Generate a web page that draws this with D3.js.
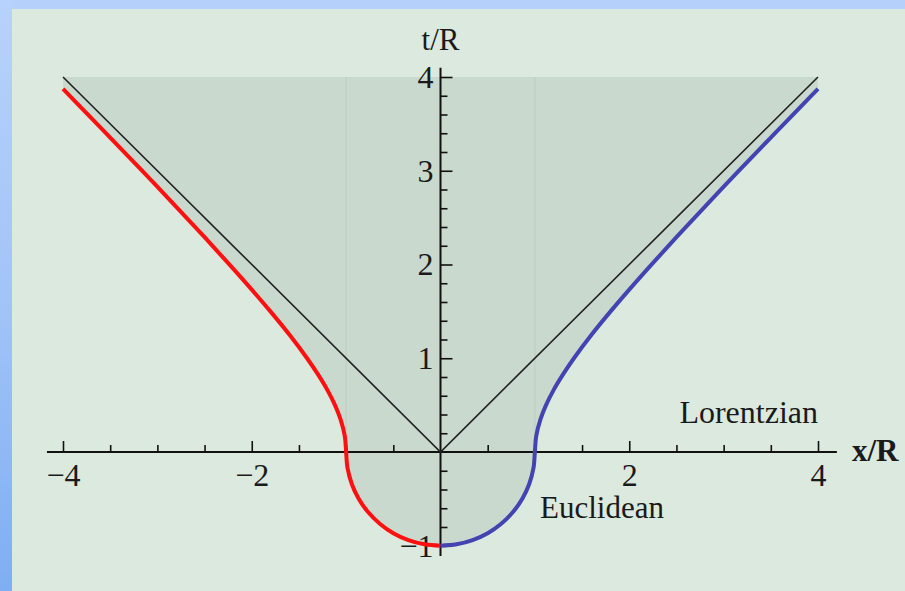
<!DOCTYPE html>
<html>
<head>
<meta charset="utf-8">
<script src="https://cdn.jsdelivr.net/npm/d3@7"></script>
<style>
  html, body { margin: 0; padding: 0; background: #b5d1fb; }
  svg { display: block; }
  text { font-family: "Liberation Serif", "Times New Roman", serif; fill: #1a1a1a; }
</style>
</head>
<body>
<svg id="chart" width="905" height="591"></svg>
<script>
// Right branch (blue): Euclidean arc from (0,-1) to (1,0), then Lorentzian hyperbola.
const blueBranch = [
  [0, -1], [0.17, -0.985], [0.34, -0.94], [0.5, -0.866], [0.64, -0.768],
  [0.77, -0.638], [0.87, -0.493], [0.94, -0.341], [0.985, -0.173], [1, 0],
  [1.014, 0.17], [1.06, 0.35], [1.118, 0.5], [1.198, 0.66], [1.3, 0.83],
  [1.414, 1], [1.6, 1.25], [1.8, 1.497], [2, 1.732], [2.24, 2.004],
  [2.5, 2.291], [2.8, 2.615], [3.16, 2.998], [3.5, 3.354], [3.8, 3.666], [4, 3.873]
];
// Left branch (red), same shapes on the negative side.
const redBranch = [
  [0, -1], [-0.17, -0.985], [-0.34, -0.94], [-0.5, -0.866], [-0.64, -0.768],
  [-0.77, -0.638], [-0.87, -0.493], [-0.94, -0.341], [-0.985, -0.173], [-1, 0],
  [-1.014, 0.17], [-1.06, 0.35], [-1.118, 0.5], [-1.198, 0.66], [-1.3, 0.83],
  [-1.414, 1], [-1.6, 1.25], [-1.8, 1.497], [-2, 1.732], [-2.24, 2.004],
  [-2.5, 2.291], [-2.8, 2.615], [-3.16, 2.998], [-3.5, 3.354], [-3.8, 3.666], [-4, 3.873]
];
// Light cone t = |x|
const lightCone = [[-4, 4], [0, 0], [4, 4]];
const topEdge = 4;
const seams = [-1, 1];

const xMajorTicks = [-4, -2, 2, 4];
const xMinorTicks = [-3.5, -3, -2.5, -1.5, -1, -0.5, 0.5, 1, 1.5, 2.5, 3, 3.5];
const yMajorTicks = [-1, 1, 2, 3, 4];
const yMinorTicks = [-0.8, -0.6, -0.4, -0.2, 0.2, 0.4, 0.6, 0.8,
  1.2, 1.4, 1.6, 1.8, 2.2, 2.4, 2.6, 2.8, 3.2, 3.4, 3.6, 3.8];
const xAxisExtent = [-4.17, 4.2];
const yAxisExtent = [-1.11, 4.1];

const svg = d3.select("#chart");
const W = 905, H = 591;

// page backdrop
const defs = svg.append("defs");
const lg = defs.append("linearGradient").attr("id", "side")
  .attr("x1", 0).attr("y1", 0).attr("x2", 0).attr("y2", 1);
lg.append("stop").attr("offset", 0).attr("stop-color", "#b7d2fb");
lg.append("stop").attr("offset", 0.5).attr("stop-color", "#a3c4f8");
lg.append("stop").attr("offset", 1).attr("stop-color", "#7eaef3");
svg.append("rect").attr("width", W).attr("height", H).attr("fill", "#b5d1fb");
svg.append("rect").attr("width", 12).attr("height", H).attr("fill", "url(#side)");
svg.append("rect").attr("x", 12).attr("y", 9).attr("width", W - 12).attr("height", H - 9)
  .attr("fill", "#dbe9de");

const x = d3.scaleLinear().domain([-4, 4]).range([63, 818]);
const y = d3.scaleLinear().domain([0, 4]).range([452, 77]);
const intFmt = d3.format("d");

// shaded region above the curves, up to t = 4
const region = redBranch.slice().reverse().concat(blueBranch.slice(1))
  .concat([[4, topEdge], [-4, topEdge]]);
svg.append("path")
  .attr("d", d3.line().x(d => x(d[0])).y(d => y(d[1])).curve(d3.curveLinearClosed)(region))
  .attr("fill", "#cad9cd");

// faint seams of the filling
svg.selectAll("line.seam").data(seams).join("line")
  .attr("class", "seam")
  .attr("x1", d => x(d)).attr("x2", d => x(d))
  .attr("y1", y(0)).attr("y2", y(topEdge))
  .attr("stroke", "#bfcfc2").attr("stroke-width", 1.2);

// axes
const gx = svg.append("g").attr("transform", `translate(0,${y(0)})`);
gx.append("line").attr("x1", x(xAxisExtent[0])).attr("x2", x(xAxisExtent[1]))
  .attr("stroke", "#111").attr("stroke-width", 2);
gx.append("g").call(d3.axisBottom(x).tickValues(xMinorTicks).tickSize(-7).tickFormat(""))
  .call(g => g.select(".domain").remove());
gx.append("g").call(d3.axisBottom(x).tickValues(xMajorTicks).tickSize(-11).tickPadding(11).tickFormat(intFmt))
  .call(g => g.select(".domain").remove())
  .call(g => g.selectAll("text").attr("font-size", 32).attr("fill", "#1a1a1a")
    .attr("font-family", "Liberation Serif"));
gx.selectAll("line").attr("stroke", "#111").attr("stroke-width", 1.6);
gx.select("line").attr("stroke-width", 2);

const gy = svg.append("g").attr("transform", `translate(${x(0)},0)`);
gy.append("line").attr("y1", y(yAxisExtent[0])).attr("y2", y(yAxisExtent[1]))
  .attr("stroke", "#111").attr("stroke-width", 2);
gy.append("g").call(d3.axisLeft(y).tickValues(yMinorTicks).tickSize(-7).tickFormat(""))
  .call(g => g.select(".domain").remove());
gy.append("g").call(d3.axisLeft(y).tickValues(yMajorTicks).tickSize(-12).tickPadding(7).tickFormat(intFmt))
  .call(g => g.select(".domain").remove())
  .call(g => g.selectAll("text").attr("font-size", 32).attr("fill", "#1a1a1a")
    .attr("font-family", "Liberation Serif"));
gy.selectAll("line").attr("stroke", "#111").attr("stroke-width", 1.6);
gy.select("line").attr("stroke-width", 2);

// light cone
svg.append("path")
  .attr("d", d3.line().x(d => x(d[0])).y(d => y(d[1]))(lightCone))
  .attr("fill", "none").attr("stroke", "#222").attr("stroke-width", 1.6);

// curves
const curveLine = d3.line().x(d => x(d[0])).y(d => y(d[1])).curve(d3.curveCatmullRom.alpha(0.5));
svg.append("path").attr("d", curveLine(redBranch))
  .attr("fill", "none").attr("stroke", "#ff1010").attr("stroke-width", 4);
svg.append("path").attr("d", curveLine(blueBranch))
  .attr("fill", "none").attr("stroke", "#4343b2").attr("stroke-width", 4);

// labels
svg.append("text").attr("x", x(0)).attr("y", 50).attr("text-anchor", "middle")
  .attr("font-size", 31).text("t/R");
svg.append("text").attr("x", 852).attr("y", 461).attr("font-size", 31)
  .attr("font-weight", "bold").text("x/R");
svg.append("text").attr("x", x(4)).attr("y", 423).attr("text-anchor", "end")
  .attr("font-size", 32).text("Lorentzian");
svg.append("text").attr("x", 540).attr("y", 518)
  .attr("font-size", 31).text("Euclidean");
</script>
</body>
</html>
